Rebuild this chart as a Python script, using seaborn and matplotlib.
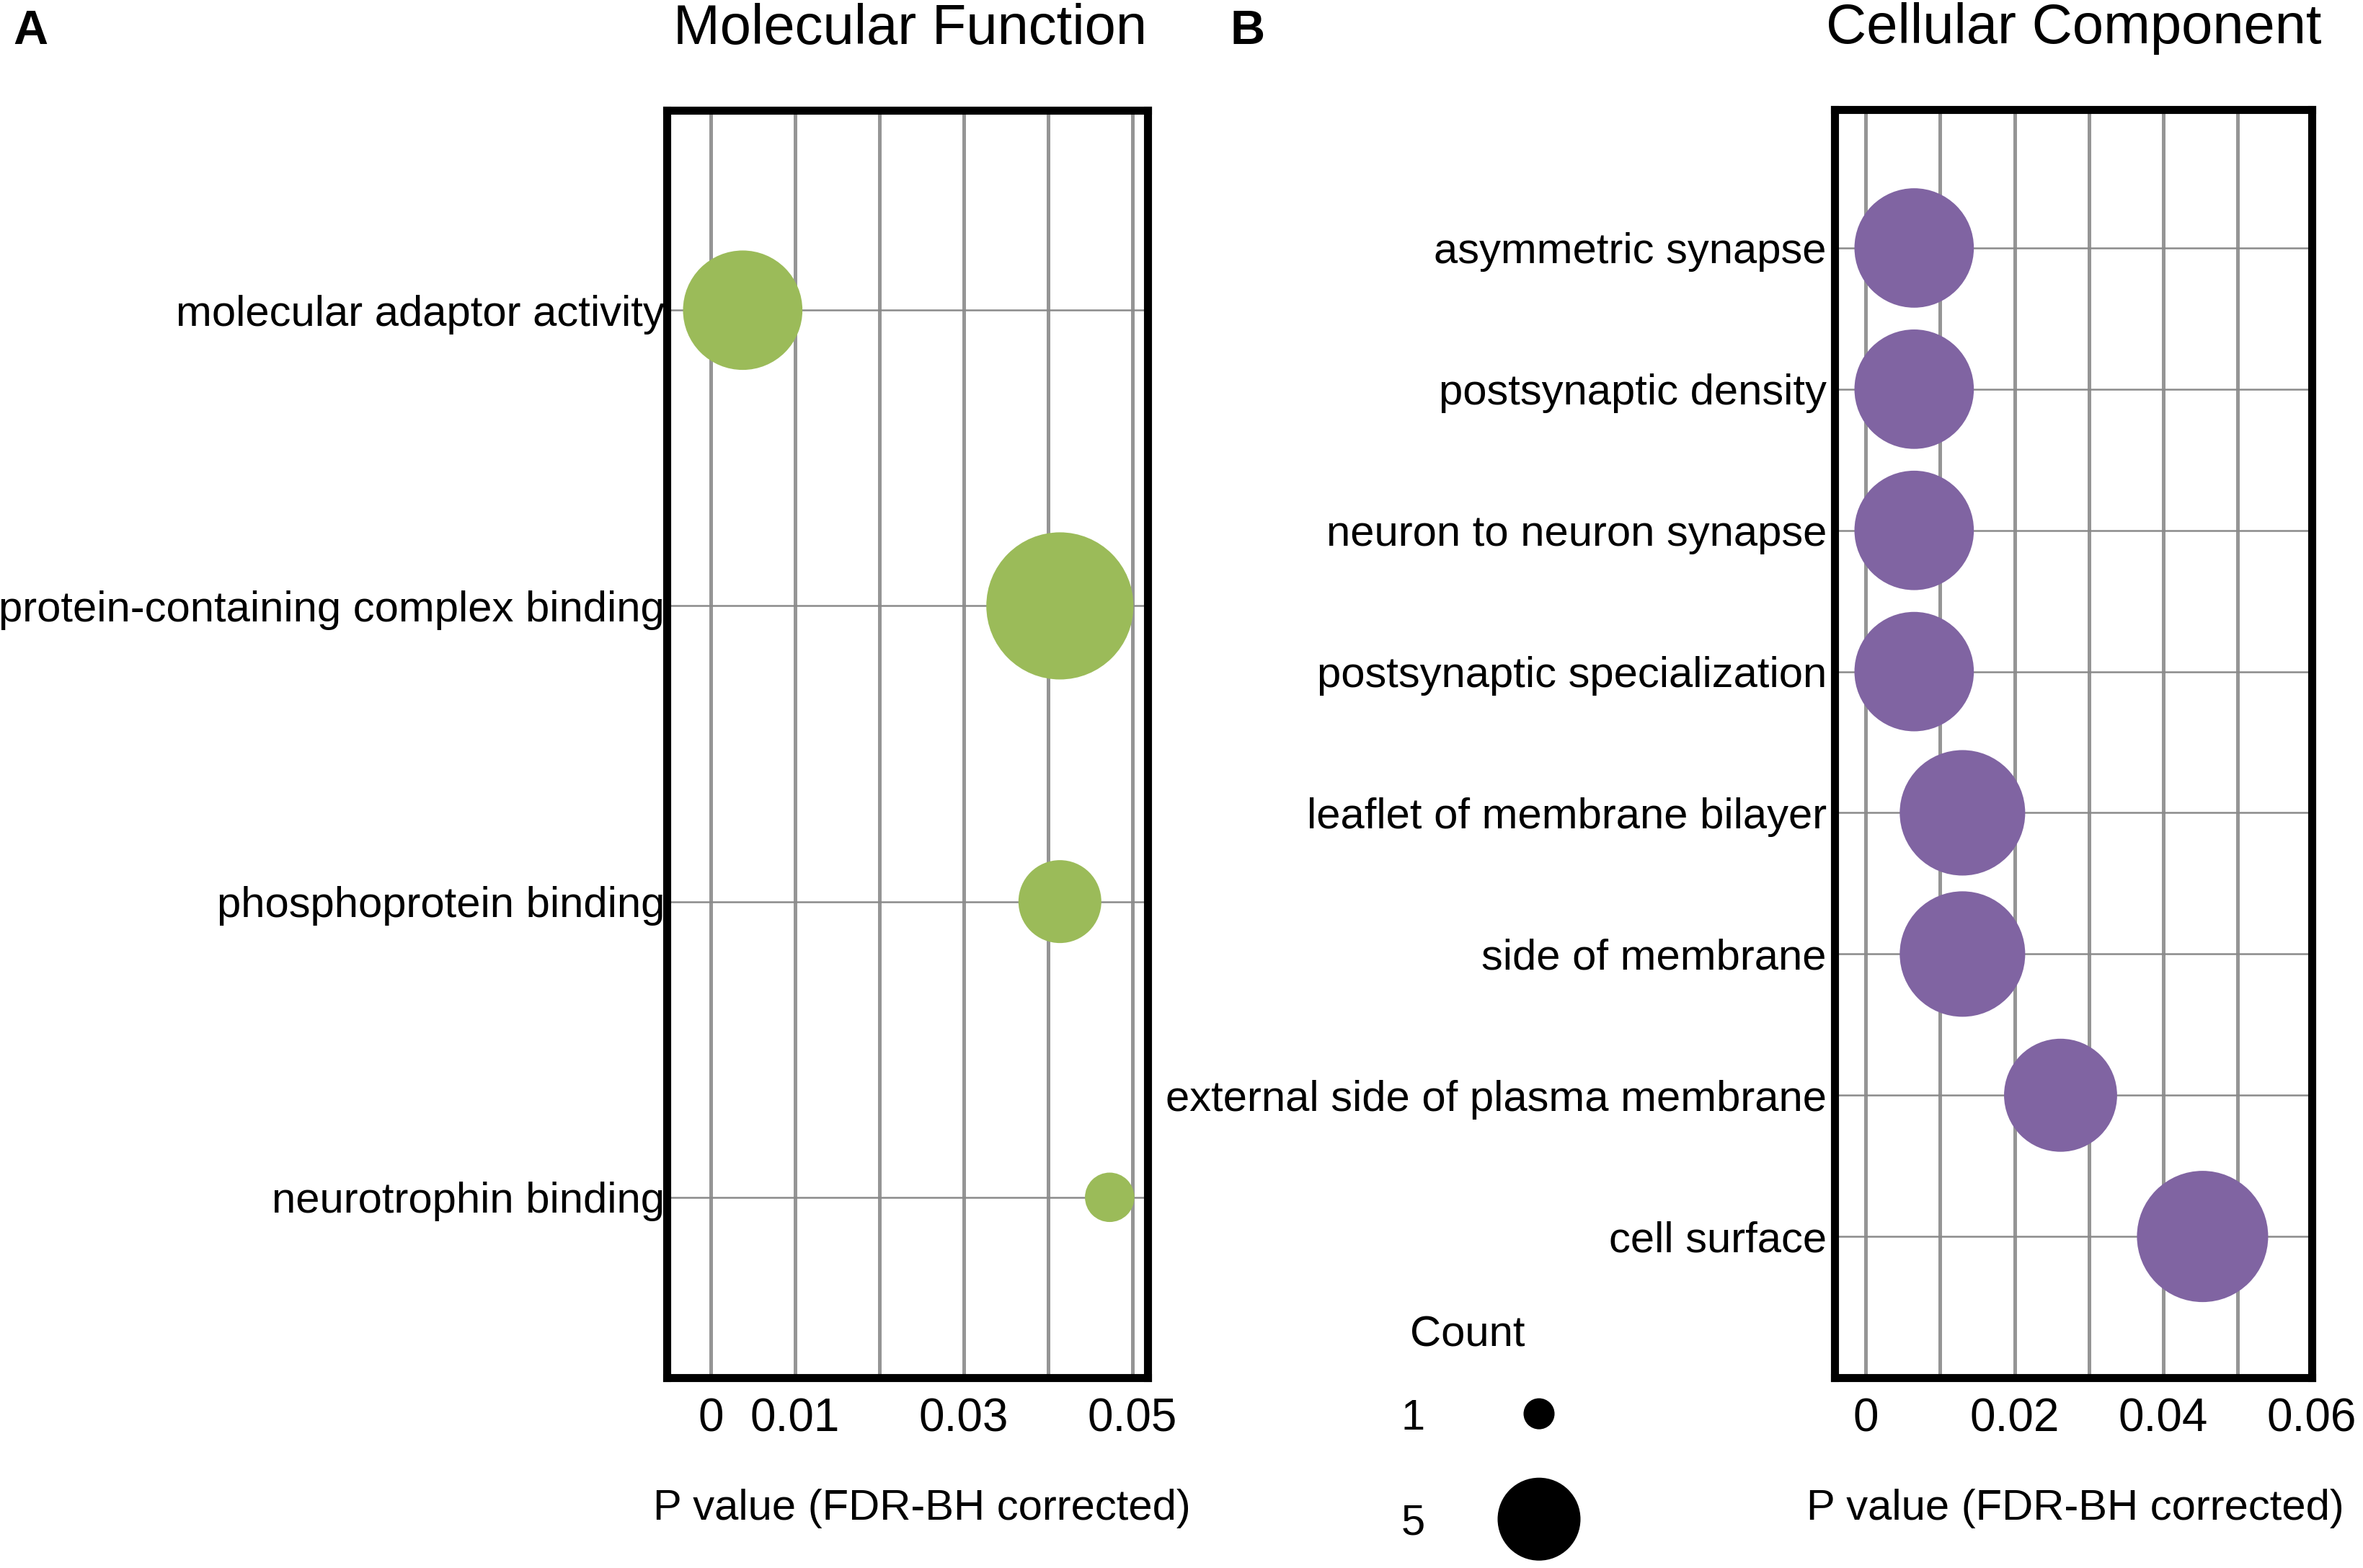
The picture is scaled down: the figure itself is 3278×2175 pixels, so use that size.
import numpy as np
import pandas as pd
import matplotlib.pyplot as plt
import seaborn as sns

# Molecular Function (panel A)
mf_terms = ["molecular adaptor activity", "protein-containing complex binding",
            "phosphoprotein binding", "neurotrophin binding"]
mf_pvalue = [0.0038, 0.0414, 0.0414, 0.0473]
mf_count = [10, 15, 5, 2]
mf_xticks = [0, 0.01, 0.02, 0.03, 0.04, 0.05]
mf_xticklabels = ["0", "0.01", "", "0.03", "", "0.05"]

# Cellular Component (panel B)
cc_terms = ["asymmetric synapse", "postsynaptic density", "neuron to neuron synapse",
            "postsynaptic specialization", "leaflet of membrane bilayer",
            "side of membrane", "external side of plasma membrane", "cell surface"]
cc_pvalue = [0.0065, 0.0065, 0.0065, 0.0065, 0.013, 0.013, 0.0262, 0.0453]
cc_count = [10, 10, 10, 10, 11, 11, 9, 12]
cc_xticks = [0, 0.01, 0.02, 0.03, 0.04, 0.05, 0.06]
cc_xticklabels = ["0", "", "0.02", "", "0.04", "", "0.06"]

legend_counts = [1, 5]
legend_labels = ["1", "5"]

GREEN = "#9BBB59"
PURPLE = "#8064A2"
AREA_1, AREA_5 = 240, 1714   # marker area (pt^2) for count 1 and count 5


def size_table(counts):
    # marker area grows linearly with count (no clipping above 5)
    return {c: AREA_1 + (c - 1) * (AREA_5 - AREA_1) / 4 for c in set(counts)}


sns.set_theme(style="white")
plt.rcParams['font.family'] = ['Liberation Sans', 'DejaVu Sans']
plt.rcParams['text.color'] = 'black'
plt.rcParams['axes.labelcolor'] = 'black'
plt.rcParams['xtick.color'] = 'black'
plt.rcParams['ytick.color'] = 'black'

W, H = 3278, 2175
fig = plt.figure(figsize=(W / 200, H / 200), dpi=200)


def fx(px):
    return px / W


def fy(py):
    return 1 - py / H


def bubble_panel(rect, terms, pvals, counts, color, xlim, ylim, xticks, xlabels, ypad, label_x):
    ax = fig.add_axes(rect)
    df = pd.DataFrame({"term": terms, "p": pvals, "count": counts})
    sns.scatterplot(data=df, x="p", y="term", size="count", sizes=size_table(counts),
                    color=color, linewidth=0, alpha=1, legend=False, ax=ax, zorder=3)
    ax.set_xlim(*xlim)
    ax.set_ylim(*ylim)
    ax.set_xticks(xticks)
    ax.set_xticklabels(xlabels)
    ax.set_axisbelow(True)
    ax.grid(axis="x", color="#959595", linewidth=1.8)
    ax.grid(axis="y", color="#8a8a8a", linewidth=0.9)
    for s in ax.spines.values():
        s.set_visible(True)
        s.set_color("black")
        s.set_linewidth(4.0)
    ax.tick_params(axis="x", length=0, pad=10, labelsize=23)
    ax.tick_params(axis="y", length=0, pad=ypad, labelsize=21.5)
    ax.set_ylabel("")
    ax.set_xlabel("P value (FDR-BH corrected)", fontsize=21.5, labelpad=24)
    ax.xaxis.label.set_x(label_x)
    return ax


axA = bubble_panel([fx(925), fy(1911), fx(1592) - fx(925), fy(153) - fy(1911)],
                   mf_terms, mf_pvalue, mf_count, GREEN,
                   (-0.0052, 0.0518), (3.61, -0.676), mf_xticks, mf_xticklabels, 1, 0.53)
axB = bubble_panel([fx(2545), fy(1911), fx(3207) - fx(2545), fy(152) - fy(1911)],
                   cc_terms, cc_pvalue, cc_count, PURPLE,
                   (-0.0042, 0.06), (8.0, -0.98), cc_xticks, cc_xticklabels, 4, 0.505)

# panel titles in the top margin
fig.text(fx(1262), fy(40), "Molecular Function", fontsize=28, ha="center", va="center")
fig.text(fx(2877), fy(40), "Cellular Component", fontsize=28, ha="center", va="center")

# panel letters
fig.text(fx(42), fy(44), "A", fontsize=24, fontweight="bold", ha="center", va="center")
fig.text(fx(1731), fy(44), "B", fontsize=24, fontweight="bold", ha="center", va="center")

# size legend
axL = fig.add_axes([fx(2060), fy(2173), fx(2210) - fx(2060), fy(1888) - fy(2173)])
leg_df = pd.DataFrame({"x": [0] * len(legend_counts), "lab": legend_labels, "count": legend_counts})
sns.scatterplot(data=leg_df, x="x", y="lab", size="count", sizes=size_table(legend_counts),
                color="black", linewidth=0, legend=False, ax=axL)
axL.set_xlim(-1, 1)
axL.set_ylim(1.45, -0.5)
axL.set_xticks([])
axL.set_xlabel("")
axL.set_ylabel("")
axL.tick_params(axis="y", length=0, pad=30, labelsize=21.5)
for s in axL.spines.values():
    s.set_visible(False)
axL.patch.set_alpha(0)
fig.text(fx(2036), fy(1852), "Count", fontsize=21.5, ha="center", va="center")

fig.savefig("out.png", dpi=200)
